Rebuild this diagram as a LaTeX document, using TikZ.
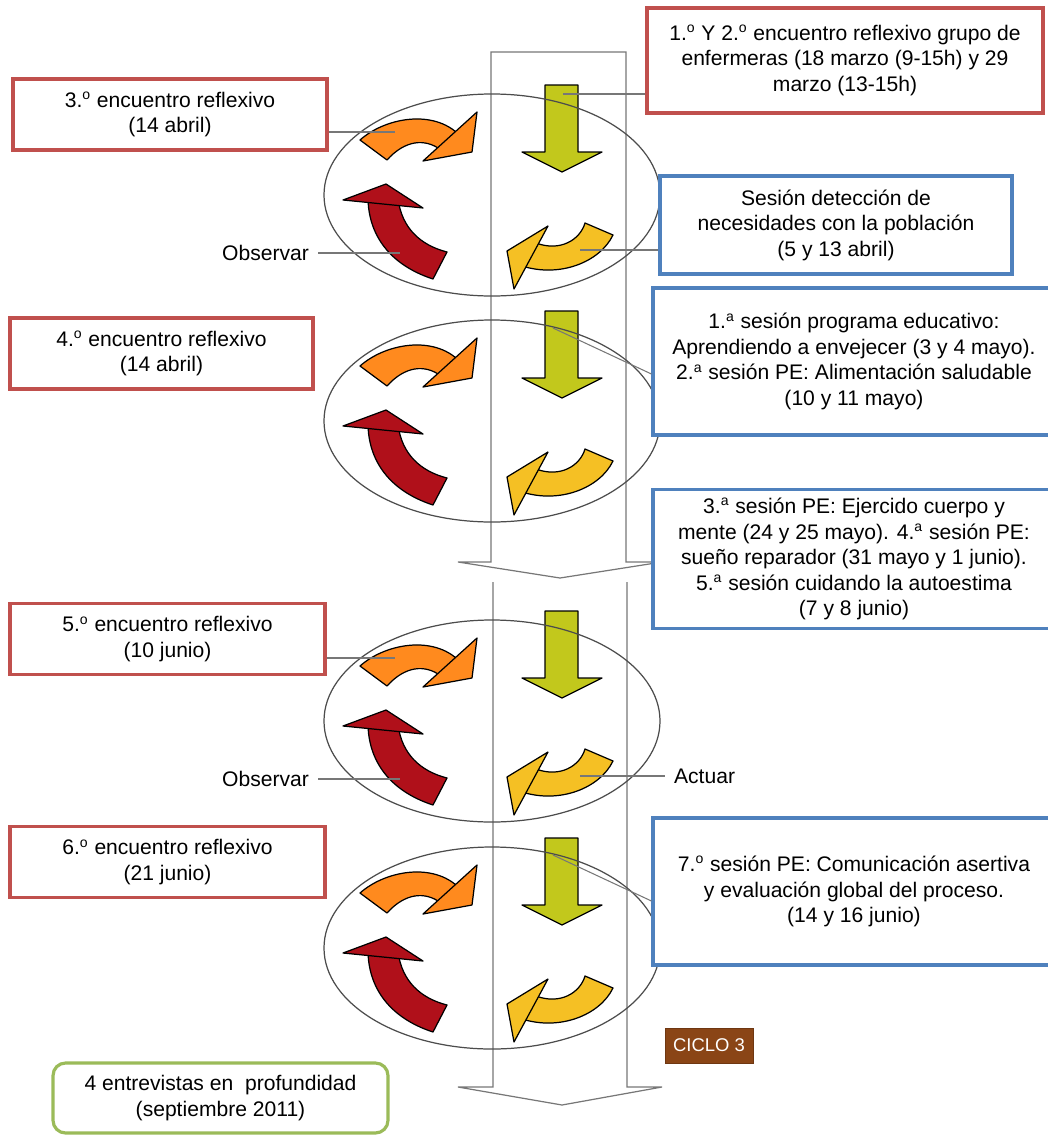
\documentclass[tikz,border=0pt]{standalone}
\usepackage{fontspec}
\setmainfont{Liberation Sans}
\usetikzlibrary{positioning}
\definecolor{boxred}{HTML}{C0504D}
\definecolor{boxblue}{HTML}{4F81BD}
\definecolor{boxgreen}{HTML}{9BBB59}
\definecolor{ciclo}{HTML}{8A4516}
\definecolor{arrgreen}{HTML}{C2C81C}
\definecolor{arrorange}{HTML}{FF8A1E}
\definecolor{arrred}{HTML}{B0101A}
\definecolor{arryellow}{HTML}{F5C024}
\definecolor{guide}{HTML}{777777}
\newcommand{\ord}[1]{\textsuperscript{#1}}

\begin{document}
\begin{tikzpicture}[
    x=0.02cm, y=-0.02cm,
    font=\fontsize{12}{14.5}\selectfont,
    every node/.style={inner sep=0pt},
    redbox/.style={draw=boxred, line width=1.8pt, fill=white, align=center,
                   minimum height=1.42cm},
    bluebox/.style={draw=boxblue, line width=1.8pt, fill=white, align=center,
                    minimum width=8.04cm},
    lead/.style={draw=guide, line width=0.6pt},
    frame/.style={draw=guide, line width=0.7pt},
    cyc/.style={draw=black!70, line width=0.7pt},
    blade/.style={draw=black, line width=0.7pt, line join=round},
    lbl/.style={inner sep=5pt}
  ]
  \clip (0,0) rectangle (1048,1136);

  % the two column arrows
  \draw[frame] (458,562) -- (491,562) -- (491,52) -- (626,52) -- (626,562)
     -- (662,562) -- (560,578) -- cycle;
  \draw[frame] (493,582) -- (493,1087) -- (458,1087) -- (562,1105) -- (662,1087)
     -- (627,1087) -- (627,582);

  % one cycle of four arrows per group
  \foreach \k/\dy in {1/0, 2/226, 3/526, 4/753}{
    \begin{scope}[shift={(0,\dy)}]
      \filldraw[blade, fill=arrgreen] (545,85) -- (578,85) -- (578,152) -- (602,152)
         -- (562,172) -- (522,152) -- (545,152) -- cycle;
      \filldraw[blade, fill=arrorange] (360,140) .. controls (385,118) and (430,110) .. (456,132)
         -- (441,150) .. controls (425,138) and (405,140) .. (387,160) -- cycle;
      \filldraw[blade, fill=arrorange] (423,161) -- (477,112) -- (472,152) -- cycle;
      \filldraw[blade, fill=arrred] (368,197) .. controls (368,235) and (390,265) .. (433,279)
         -- (447,252) .. controls (420,245) and (402,228) .. (398,199) -- cycle;
      \filldraw[blade, fill=arrred] (343,200) -- (386,184) -- (423,208) -- cycle;
      \filldraw[blade, fill=arryellow] (613,235) .. controls (600,262) and (560,278) .. (522,266)
         -- (536,243) .. controls (560,252) and (580,240) .. (585,223) -- cycle;
      \filldraw[blade, fill=arryellow] (507,251) -- (548,226) -- (514,289) -- cycle;
      \draw[cyc] (492,195) ellipse [x radius=168, y radius=101];
      \coordinate (or\k) at (395,132);
      \coordinate (gr\k) at (563,94);
      \coordinate (gs\k) at (553,102);
      \coordinate (bx\k) at (653,148);
      \coordinate (ye\k) at (580,250);
      \coordinate (re\k) at (400,253);
    \end{scope}
  }

  % boxes
  \node[redbox, minimum width=6.28cm] (enc3) at (170,114.5)
    {3.\ord{o} encuentro reflexivo\\(14 abril)};
  \node[redbox, minimum width=7.92cm, minimum height=2.1cm] (enc12) at (845,60.5)
    {1.\ord{o} Y 2.\ord{o} encuentro reflexivo grupo de\\enfermeras (18 marzo (9-15h) y 29\\marzo (13-15h)};
  \node[bluebox, minimum width=7.04cm, minimum height=1.96cm] (deteccion) at (836,225)
    {Sesión detección de\\necesidades con la población\\(5 y 13 abril)};
  \node[redbox, minimum width=6.06cm] (enc4) at (161.5,353.5)
    {4.\ord{o} encuentro reflexivo\\(14 abril)};
  \node[bluebox, minimum height=2.94cm] (pe12) at (854,361.5)
    {1.\ord{a} sesión programa educativo:\\Aprendiendo a envejecer (3 y 4 mayo).\\2.\ord{a} sesión PE: Alimentación saludable\\(10 y 11 mayo)};
  \node[bluebox, minimum height=2.78cm] (pe345) at (854,559)
    {3.\ord{a} sesión PE: Ejercido cuerpo y\\mente (24 y 25 mayo). 4.\ord{a} sesión PE:\\sueño reparador (31 mayo y 1 junio).\\5.\ord{a} sesión cuidando la autoestima\\(7 y 8 junio)};
  \node[redbox, minimum width=6.3cm] (enc5) at (167.5,639)
    {5.\ord{o} encuentro reflexivo\\(10 junio)};
  \node[bluebox, minimum height=2.94cm] (pe7) at (854,891.5)
    {7.\ord{o} sesión PE: Comunicación asertiva\\y evaluación global del proceso.\\(14 y 16 junio)};
  \node[redbox, minimum width=6.3cm] (enc6) at (167.5,862)
    {6.\ord{o} encuentro reflexivo\\(21 junio)};
  \node[draw=boxgreen, line width=1.8pt, rounded corners=0.25cm, fill=white, align=center,
        minimum width=6.7cm, minimum height=1.4cm] (entrevistas) at (220.5,1098)
    {4 entrevistas en~ profundidad\\(septiembre 2011)};
  \node[fill=ciclo, draw=ciclo!80!black, text=white, minimum width=1.76cm, minimum height=0.7cm,
        font=\fontsize{10.5}{12}\selectfont] (ciclo3) at (709,1045.5) {CICLO 3};

  % labels and leaders
  \node[lbl, anchor=east] (obs1) at (318,253) {Observar};
  \node[lbl, anchor=east] (obs3) at (318,779) {Observar};
  \node[lbl, anchor=west] (actuar) at (665,776) {Actuar};
  \draw[lead] (enc3.east |- or1) -- (or1);
  \draw[lead] (enc12.west |- gr1) -- (gr1);
  \draw[lead] (deteccion.west |- ye1) -- (ye1);
  \draw[lead] (obs1) -- (re1);
  \draw[lead] (gs2) -- (pe12.west |- bx2);
  \draw[lead] (enc5.east |- or3) -- (or3);
  \draw[lead] (obs3) -- (re3);
  \draw[lead] (ye3) -- (actuar);
  \draw[lead] (gs4) -- (pe7.west |- bx4);
\end{tikzpicture}
\end{document}
